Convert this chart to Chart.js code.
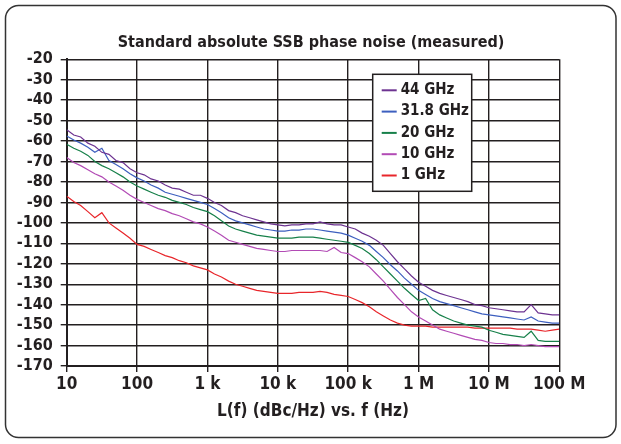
<!DOCTYPE html>
<html>
<head>
<meta charset="utf-8">
<script src="https://cdn.jsdelivr.net/npm/chart.js@4.4.0/dist/chart.umd.min.js"></script>
<style>
  html, body { margin: 0; padding: 0; background: #fff; }
  canvas { display: block; }
</style>
</head>
<body>
<canvas id="phase-noise-chart" width="621" height="444"></canvas>
<script>
// offset frequency (Hz), one point every 0.1 decade
const freqHz = [
  10, 12.6, 15.8, 20, 25.1, 31.6, 39.8, 50.1, 63.1, 79.4,
  100, 126, 158, 200, 251, 316, 398, 501, 631, 794,
  1e3, 1.26e3, 1.58e3, 2e3, 2.51e3, 3.16e3, 3.98e3, 5.01e3, 6.31e3, 7.94e3,
  1e4, 1.26e4, 1.58e4, 2e4, 2.51e4, 3.16e4, 3.98e4, 5.01e4, 6.31e4, 7.94e4,
  1e5, 1.26e5, 1.58e5, 2e5, 2.51e5, 3.16e5, 3.98e5, 5.01e5, 6.31e5, 7.94e5,
  1e6, 1.26e6, 1.58e6, 2e6, 2.51e6, 3.16e6, 3.98e6, 5.01e6, 6.31e6, 7.94e6,
  1e7, 1.26e7, 1.58e7, 2e7, 2.51e7, 3.16e7, 3.98e7, 5.01e7, 6.31e7, 7.94e7,
  1e8
];

// L(f) in dBc/Hz
const noise44GHz = [
  -54.5, -57, -58, -61, -62.5, -65.5, -66.5, -69.5, -70.5, -73.5,
  -75.5, -76.5, -78.5, -79.5, -81.5, -83, -83.5, -85, -86.5, -86.5,
  -88, -90, -91.5, -94, -95, -96.5, -97.5, -98.5, -99.5, -100.5,
  -101, -101.5, -101, -101, -100.5, -100.5, -99.5, -100.5, -101, -101,
  -102, -103, -105, -106.5, -108.5, -111, -115, -119, -122.5, -126,
  -129, -131, -133, -134.5, -135.5, -136.5, -137.5, -138.5, -140, -140.5,
  -141.5, -142, -142.5, -143, -143.5, -143.5, -140, -144, -144.5, -145,
  -145
];
const noise31_8GHz = [
  -57.5, -59.5, -61, -63, -65.5, -63.5, -69.5, -71.5, -73.5, -76,
  -78, -79.5, -81.5, -83, -85, -86, -87, -88, -89, -90,
  -91, -93, -95, -97.5, -99, -100, -101, -102, -103, -103.5,
  -104, -104, -103.5, -103.5, -103, -103, -103.5, -104, -104.5, -105,
  -106, -107.5, -109, -111, -114, -117, -120.5, -123.5, -127, -130,
  -133, -135, -137, -138.5, -139.5, -140.5, -141.5, -142.5, -143.5, -144.5,
  -145, -145.5, -146, -146.5, -147, -147.5, -146, -148, -148.5, -149,
  -149
];
const noise20GHz = [
  -61.5, -63.5, -65, -67, -70, -72, -73.5, -75.5, -77.5, -80,
  -82, -83.5, -85, -86.5, -87.5, -89, -90, -91, -92.5, -93.5,
  -94.5, -96.5, -99, -101.5, -103, -104, -105, -106, -106.5, -107,
  -107.5, -107.5, -107.5, -107, -107, -107, -107.5, -108, -108.5, -109,
  -109.5, -111, -112.5, -115, -118, -121.5, -125, -128.5, -132, -135,
  -138, -137, -142.5, -145, -146.5, -148, -149, -150, -150.5, -151,
  -152.5, -153.5, -154.5, -155, -155.5, -156, -153, -157.5, -158, -158,
  -158
];
const noise10GHz = [
  -68, -70.5, -72, -74, -76, -77.5, -80, -82, -84, -86.5,
  -88.5, -90, -91.5, -93, -94, -95.5, -96.5, -98, -99.5, -100.5,
  -102, -104, -106, -108.5, -109.5, -110.5, -111.5, -112.5, -113, -113.5,
  -114, -114, -113.5, -113.5, -113.5, -113.5, -113.5, -114, -112, -114.5,
  -115, -117, -119, -121.5, -125, -128.5, -132.5, -136.5, -140, -143.5,
  -146, -148, -150, -152, -153, -154, -155, -156, -157, -157.5,
  -158.5, -159, -159, -159.5, -159.5, -160, -159.5, -160, -160.5, -160.5,
  -160.5
];
const noise1GHz = [
  -87, -89.5, -91.5, -94.5, -97.5, -95, -100, -102.5, -105, -107.5,
  -110.5, -111.5, -113, -114.5, -116, -117, -118.5, -119.5, -121, -122,
  -123, -125, -126.5, -128.5, -130, -131, -132, -133, -133.5, -134,
  -134.5, -134.5, -134.5, -134, -134, -134, -133.5, -134, -135, -135.5,
  -136, -137.5, -139, -141, -143.5, -145.5, -147.5, -149, -150, -150.5,
  -150.5, -150.5, -151, -151, -151, -151, -151, -151, -151.5, -151.5,
  -151.5, -151.5, -151.5, -151.5, -152, -152, -152, -152.5, -153, -152.5,
  -152
];

const seriesLabels = ["44 GHz", "31.8 GHz", "20 GHz", "10 GHz", "1 GHz"];
const seriesColors = ["#6d3391", "#3d5fbf", "#17804a", "#b24bb5", "#e8262b"];
const seriesValues = [noise44GHz, noise31_8GHz, noise20GHz, noise10GHz, noise1GHz];

const xTickValues = [10, 100, 1e3, 1e4, 1e5, 1e6, 1e7, 1e8];
const xTickLabels = ["10", "100", "1 k", "10 k", "100 k", "1 M", "10 M", "100 M"];

const FONT = "'Liberation Sans Narrow', 'DejaVu Sans Condensed', 'Roboto Condensed', Roboto, sans-serif";
const INK = "#231f20";

Chart.defaults.font.family = FONT;
Chart.defaults.color = INK;

// rounded frame + title drawn around the plot
const frameAndTitle = {
  id: "frameAndTitle",
  beforeDraw(chart) {
    const ctx = chart.ctx;
    ctx.save();
    ctx.strokeStyle = "#333";
    ctx.lineWidth = 1.5;
    ctx.beginPath();
    ctx.roundRect(5.5, 5.5, 610.5, 432, 13);
    ctx.stroke();
    ctx.restore();
  },
  afterDraw(chart) {
    const ctx = chart.ctx;
    ctx.save();
    ctx.fillStyle = INK;
    ctx.font = "bold 16px " + FONT;
    ctx.textAlign = "center";
    ctx.textBaseline = "middle";
    ctx.fillText("Standard absolute SSB phase noise (measured)", 311, 43);
    ctx.restore();
  },
};

// boxed legend sitting inside the plot area
const legendBox = {
  id: "legendBox",
  afterDatasetsDraw(chart) {
    const { ctx, chartArea } = chart;
    const x = chartArea.left + 306;
    const y = chartArea.top + 15;
    const w = 99;
    ctx.save();
    ctx.fillStyle = "#fff";
    ctx.fillRect(x, y, w, 117);
    ctx.strokeStyle = INK;
    ctx.lineWidth = 1.5;
    ctx.strokeRect(x, y, w, 117);
    ctx.font = "bold 15px " + FONT;
    ctx.textBaseline = "middle";
    ctx.textAlign = "left";
    chart.data.datasets.forEach((ds, i) => {
      const cy = y + 16 + i * 21.3;
      ctx.strokeStyle = ds.borderColor;
      ctx.lineWidth = 2;
      ctx.beginPath();
      ctx.moveTo(x + 9, cy);
      ctx.lineTo(x + 24, cy);
      ctx.stroke();
      ctx.fillStyle = INK;
      ctx.fillText(ds.label, x + 28, cy);
    });
    ctx.restore();
  },
};

const datasets = seriesLabels.map((label, i) => ({
  label: label,
  data: freqHz.map((f, j) => ({ x: f, y: seriesValues[i][j] })),
  borderColor: seriesColors[i],
  backgroundColor: seriesColors[i],
  borderWidth: 1.2,
  pointRadius: 0,
  tension: 0,
  fill: false,
}));

new Chart(document.getElementById("phase-noise-chart"), {
  type: "line",
  data: { datasets: datasets },
  options: {
    responsive: false,
    animation: false,
    layout: { padding: { top: 59.3, right: 61.7, bottom: 0, left: 0 } },
    plugins: {
      legend: { display: false },
      title: { display: false },
      tooltip: { enabled: false },
    },
    scales: {
      x: {
        type: "logarithmic",
        min: 10,
        max: 1e8,
        afterBuildTicks: (scale) => {
          scale.ticks = xTickValues.map((v) => ({ value: v }));
        },
        afterFit: (scale) => {
          scale.height = 78;
        },
        ticks: {
          autoSkip: false,
          maxRotation: 0,
          padding: 2,
          color: INK,
          font: { size: 17, weight: "bold" },
          callback: (v, i) => xTickLabels[i],
        },
        grid: { color: INK, lineWidth: 1.4, tickLength: 6 },
        border: { color: INK, width: 2 },
        title: {
          display: true,
          text: "L(f) (dBc/Hz) vs. f (Hz)",
          color: INK,
          font: { size: 17, weight: "bold" },
          padding: { top: 0, bottom: 22 },
        },
      },
      y: {
        min: -170,
        max: -20,
        afterFit: (scale) => {
          scale.width = 66.7;
        },
        ticks: {
          stepSize: 10,
          autoSkip: false,
          padding: 8,
          color: INK,
          font: { size: 16, weight: "bold" },
        },
        grid: { color: INK, lineWidth: 1.4, tickLength: 6 },
        border: { color: INK, width: 2 },
      },
    },
  },
  plugins: [frameAndTitle, legendBox],
});
</script>
</body>
</html>
